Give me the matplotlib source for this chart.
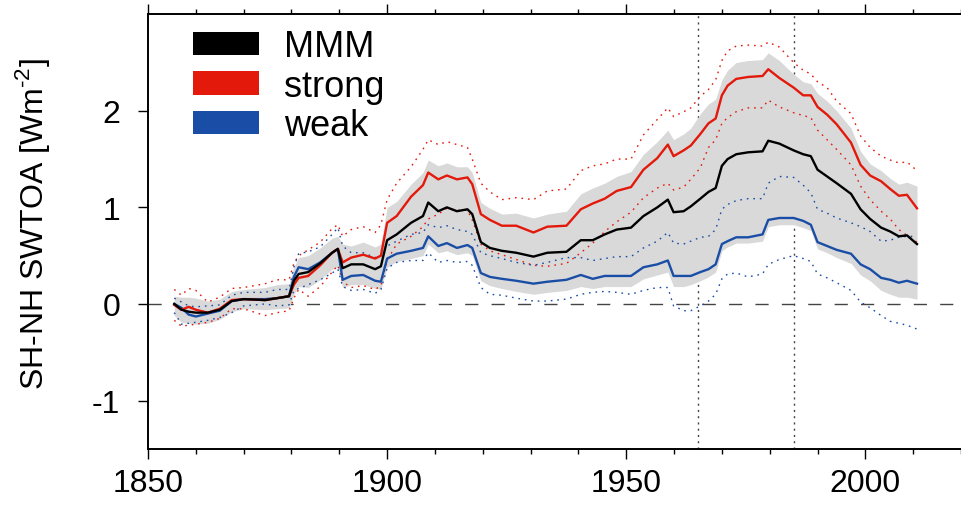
import matplotlib
matplotlib.use("Agg")
import matplotlib.pyplot as plt
from matplotlib.patches import Patch
from matplotlib.ticker import MultipleLocator

plt.rcParams['font.family'] = ['Liberation Sans', 'DejaVu Sans']
plt.rcParams['axes.unicode_minus'] = False
plt.rcParams['mathtext.fontset'] = 'custom'
plt.rcParams['mathtext.rm'] = 'Liberation Sans'

# years (running-mean nodes)
years = [1855.5, 1857, 1858.5, 1860, 1862.5, 1865, 1867.5, 1870, 1874.5, 1877,
         1879.5, 1880.5, 1881.5, 1883.5, 1886, 1888.5, 1889.7, 1890.7, 1892.5, 1895,
         1897.5, 1898.7, 1900, 1902, 1905, 1907.5, 1908.6, 1910.7, 1912.5, 1914.6,
         1916.8, 1917.8, 1919.6, 1921.5, 1924, 1927, 1930.6, 1933.5, 1937.5, 1940.5,
         1943, 1945.5, 1948, 1951, 1953.6, 1956.5, 1958.7, 1959.9, 1962, 1963.5,
         1965.5, 1967.2, 1968.7, 1970, 1971.2, 1973, 1975.5, 1978.5, 1979.7, 1982,
         1985, 1987, 1988.6, 1990, 1992, 1994, 1997, 1999, 2001, 2003.3,
         2005.2, 2007, 2008.7, 2010.8]

# multi-model mean
mmm = [0.00, -0.06, -0.08, -0.09, -0.09, -0.06, 0.03, 0.05, 0.04, 0.06,
       0.08, 0.24, 0.31, 0.33, 0.42, 0.53, 0.57, 0.37, 0.41, 0.41,
       0.36, 0.39, 0.66, 0.72, 0.84, 0.91, 1.05, 0.96, 1.00, 0.96,
       0.98, 0.93, 0.64, 0.58, 0.55, 0.53, 0.49, 0.53, 0.54, 0.66,
       0.66, 0.72, 0.77, 0.79, 0.91, 1.00, 1.08, 0.95, 0.96, 1.01,
       1.09, 1.16, 1.20, 1.43, 1.50, 1.55, 1.57, 1.58, 1.69, 1.66,
       1.59, 1.55, 1.53, 1.39, 1.32, 1.25, 1.14, 0.98, 0.88, 0.79,
       0.75, 0.70, 0.71, 0.62]

# strong-forcing group: mean and +/- spread
strong = [-0.01, -0.06, -0.03, -0.06, -0.09, -0.05, 0.04, 0.05, 0.04, 0.06,
          0.08, 0.20, 0.27, 0.29, 0.40, 0.53, 0.57, 0.43, 0.48, 0.51,
          0.47, 0.50, 0.84, 0.91, 1.11, 1.23, 1.36, 1.29, 1.33, 1.29,
          1.31, 1.24, 0.93, 0.87, 0.81, 0.81, 0.74, 0.80, 0.81, 0.98,
          1.04, 1.09, 1.17, 1.21, 1.39, 1.51, 1.65, 1.53, 1.59, 1.64,
          1.76, 1.87, 1.92, 2.16, 2.26, 2.33, 2.35, 2.36, 2.43, 2.34,
          2.24, 2.16, 2.16, 2.04, 1.96, 1.86, 1.67, 1.44, 1.33, 1.27,
          1.19, 1.12, 1.13, 0.99]
strong_hi = [0.15, 0.09, 0.16, 0.14, 0.02, 0.07, 0.16, 0.17, 0.21, 0.25,
             0.25, 0.42, 0.50, 0.56, 0.64, 0.78, 0.82, 0.70, 0.77, 0.80,
             0.74, 0.82, 1.08, 1.25, 1.42, 1.60, 1.70, 1.65, 1.68, 1.65,
             1.62, 1.50, 1.25, 1.16, 1.08, 1.10, 1.08, 1.17, 1.19, 1.38,
             1.43, 1.45, 1.50, 1.50, 1.75, 1.91, 2.03, 1.94, 1.99, 2.03,
             2.15, 2.22, 2.32, 2.52, 2.62, 2.67, 2.68, 2.67, 2.71, 2.66,
             2.50, 2.42, 2.38, 2.30, 2.24, 2.10, 1.97, 1.74, 1.62, 1.53,
             1.49, 1.46, 1.47, 1.38]
strong_lo = [-0.17, -0.23, -0.22, -0.21, -0.19, -0.15, -0.05, -0.05, -0.12, -0.09,
             -0.07, 0.06, 0.15, 0.08, 0.18, 0.33, 0.40, 0.23, 0.17, 0.19,
             0.15, 0.19, 0.45, 0.62, 0.70, 0.80, 0.88, 0.93, 0.99, 0.97,
             0.97, 0.87, 0.62, 0.55, 0.51, 0.46, 0.40, 0.39, 0.42, 0.53,
             0.63, 0.75, 0.85, 0.95, 1.10, 1.20, 1.25, 1.18, 1.21, 1.29,
             1.41, 1.62, 1.70, 1.87, 1.93, 1.99, 2.03, 2.03, 2.11, 2.04,
             1.98, 1.95, 1.93, 1.80, 1.70, 1.60, 1.44, 1.22, 1.08, 0.96,
             0.88, 0.77, 0.71, 0.64]

# weak-forcing group: mean and +/- spread
weak = [0.00, -0.04, -0.11, -0.13, -0.10, -0.07, 0.03, 0.05, 0.05, 0.06,
        0.08, 0.28, 0.38, 0.36, 0.43, 0.53, 0.57, 0.25, 0.29, 0.30,
        0.24, 0.23, 0.47, 0.52, 0.55, 0.58, 0.70, 0.60, 0.63, 0.58,
        0.61, 0.58, 0.32, 0.28, 0.26, 0.24, 0.21, 0.23, 0.25, 0.30,
        0.26, 0.29, 0.29, 0.29, 0.38, 0.41, 0.45, 0.29, 0.29, 0.29,
        0.33, 0.36, 0.41, 0.62, 0.65, 0.69, 0.69, 0.72, 0.87, 0.89,
        0.89, 0.86, 0.82, 0.64, 0.60, 0.56, 0.52, 0.41, 0.36, 0.27,
        0.25, 0.22, 0.24, 0.21]
weak_hi = [0.06, 0.02, -0.02, -0.03, -0.02, -0.01, 0.09, 0.12, 0.12, 0.15,
           0.15, 0.38, 0.52, 0.54, 0.59, 0.72, 0.79, 0.60, 0.53, 0.53,
           0.48, 0.50, 0.60, 0.65, 0.72, 0.74, 0.82, 0.79, 0.81, 0.77,
           0.75, 0.72, 0.53, 0.50, 0.47, 0.43, 0.40, 0.43, 0.48, 0.48,
           0.45, 0.47, 0.49, 0.49, 0.58, 0.65, 0.74, 0.63, 0.62, 0.65,
           0.69, 0.70, 0.77, 0.98, 1.03, 1.07, 1.09, 1.09, 1.25, 1.32,
           1.31, 1.23, 1.15, 0.98, 0.94, 0.89, 0.84, 0.80, 0.75, 0.65,
           0.66, 0.69, 0.70, 0.70]
weak_lo = [-0.09, -0.21, -0.20, -0.19, -0.17, -0.14, -0.09, -0.02, 0.00, -0.02,
           -0.01, 0.14, 0.16, 0.20, 0.25, 0.32, 0.36, 0.18, 0.14, 0.15,
           0.11, 0.15, 0.37, 0.43, 0.45, 0.45, 0.53, 0.43, 0.45, 0.43,
           0.44, 0.40, 0.17, 0.10, 0.09, 0.06, 0.03, 0.03, 0.05, 0.10,
           0.12, 0.13, 0.12, 0.10, 0.14, 0.17, 0.17, -0.02, -0.07, -0.07,
           -0.02, 0.03, 0.10, 0.26, 0.31, 0.32, 0.28, 0.31, 0.41, 0.46,
           0.50, 0.47, 0.44, 0.31, 0.27, 0.22, 0.14, 0.02, -0.04, -0.12,
           -0.18, -0.20, -0.22, -0.26]

# full model range (grey band)
band_hi = [0.08, 0.07, 0.07, 0.06, 0.03, 0.05, 0.13, 0.15, 0.17, 0.20,
           0.21, 0.38, 0.48, 0.50, 0.58, 0.68, 0.70, 0.62, 0.60, 0.64,
           0.59, 0.62, 1.00, 1.06, 1.24, 1.36, 1.49, 1.43, 1.46, 1.42,
           1.42, 1.36, 1.05, 0.99, 0.93, 0.94, 0.89, 0.93, 0.96, 1.14,
           1.20, 1.25, 1.32, 1.37, 1.55, 1.68, 1.80, 1.70, 1.76, 1.82,
           1.97, 2.07, 2.12, 2.32, 2.42, 2.50, 2.52, 2.53, 2.60, 2.52,
           2.38, 2.30, 2.28, 2.18, 2.10, 2.00, 1.82, 1.58, 1.45, 1.38,
           1.30, 1.24, 1.26, 1.22]
band_lo = [-0.12, -0.19, -0.20, -0.21, -0.20, -0.16, -0.08, -0.05, -0.06, -0.05,
           -0.04, 0.10, 0.18, 0.17, 0.25, 0.36, 0.38, 0.17, 0.20, 0.20,
           0.16, 0.15, 0.38, 0.44, 0.47, 0.50, 0.62, 0.53, 0.55, 0.51,
           0.53, 0.50, 0.24, 0.19, 0.16, 0.13, 0.10, 0.12, 0.14, 0.18,
           0.16, 0.18, 0.18, 0.18, 0.26, 0.30, 0.33, 0.18, 0.18, 0.20,
           0.24, 0.28, 0.33, 0.55, 0.59, 0.63, 0.63, 0.65, 0.80, 0.82,
           0.82, 0.79, 0.76, 0.57, 0.53, 0.48, 0.42, 0.30, 0.24, 0.14,
           0.10, 0.07, 0.07, 0.05]

marker_years = [1965, 1985]

red = '#e2190b'
blue = '#1a4ea6'

fig = plt.figure(figsize=(9.61, 5.06), dpi=100)
ax = fig.add_axes([0.154, 0.111, 0.846, 0.859])

ax.axhline(0, color='#444444', lw=1.0, dashes=(9.5, 9.5), zorder=0)
for yr in marker_years:
    ax.axvline(yr, color='#444444', lw=1.0, dashes=(1.5, 3), zorder=0)

ax.fill_between(years, band_lo, band_hi, color='#d9d9d9', lw=0, zorder=1)

dot = (0, (1.2, 3.5))
ax.plot(years, strong_hi, color=red, lw=1.0, ls=dot, zorder=2)
ax.plot(years, strong_lo, color=red, lw=1.0, ls=dot, zorder=2)
ax.plot(years, weak_hi, color=blue, lw=1.0, ls=dot, zorder=2)
ax.plot(years, weak_lo, color=blue, lw=1.0, ls=dot, zorder=2)

ax.plot(years, weak, color=blue, lw=1.7, zorder=3)
ax.plot(years, strong, color=red, lw=1.7, zorder=3)
ax.plot(years, mmm, color='black', lw=1.7, zorder=4)

ax.set_xlim(1850, 2020)
ax.set_ylim(-1.5, 3)
ax.xaxis.set_major_locator(MultipleLocator(50))
ax.xaxis.set_minor_locator(MultipleLocator(10))
ax.set_yticks([-1, 0, 1, 2])

for side in ['left', 'top', 'bottom']:
    ax.spines[side].set_linewidth(1.4)
ax.spines['right'].set_visible(False)

ax.tick_params(axis='x', which='both', top=True, direction='out', width=1.0, labelsize=23, pad=7)
ax.tick_params(axis='x', which='major', length=7)
ax.tick_params(axis='x', which='minor', length=3.5)
ax.tick_params(axis='y', which='major', direction='out', length=7, width=1.0, labelsize=23, pad=13)

ax.set_ylabel(r'SH-NH SWTOA [Wm$^{\mathregular{\text{-}2}}$]', fontsize=23)
ax.yaxis.set_label_coords(-0.118, 0.52)

handles = [Patch(facecolor='black', edgecolor='none', label='MMM'),
           Patch(facecolor=red, edgecolor='none', label='strong'),
           Patch(facecolor=blue, edgecolor='none', label='weak')]
ax.legend(handles=handles, loc='upper left', bbox_to_anchor=(0.055, 0.965),
          frameon=False, fontsize=26, handlelength=1.83, handleheight=0.62,
          handletextpad=0.7, labelspacing=0.12, borderpad=0, borderaxespad=0)

fig.savefig('out.png', dpi=100)
